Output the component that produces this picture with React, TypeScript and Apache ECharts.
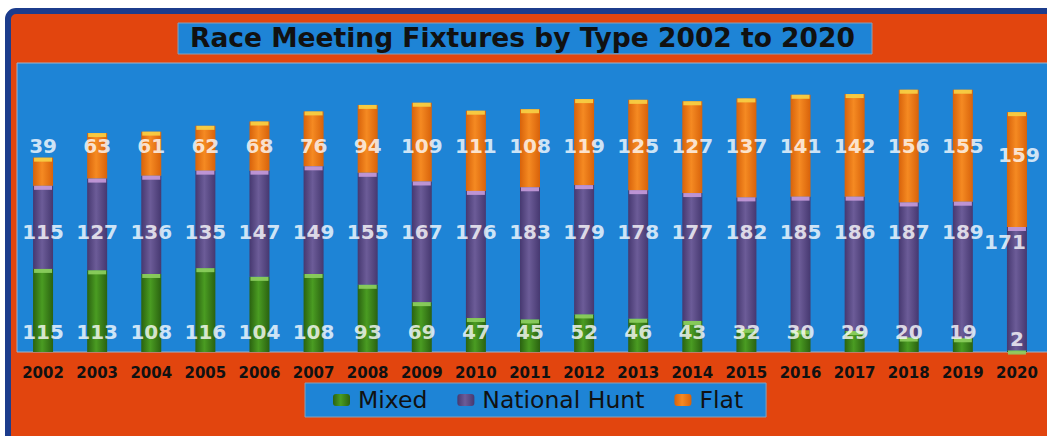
import React, { useEffect, useRef } from "react";
import * as echarts from "echarts";

const years = ["2002","2003","2004","2005","2006","2007","2008","2009","2010","2011","2012","2013","2014","2015","2016","2017","2018","2019","2020"];
const mixed = [115,113,108,116,104,108,93,69,47,45,52,46,43,32,30,29,20,19,2];
const nationalHunt = [115,127,136,135,147,149,155,167,176,183,179,178,177,182,185,186,187,189,171];
const flat = [39,63,61,62,68,76,94,109,111,108,119,125,127,137,141,142,156,155,159];
const seriesNames = ["Mixed", "National Hunt", "Flat"];
const titleText = "Race Meeting Fixtures by Type 2002 to 2020";

const labelFont = { color: "#ffffff", fontSize: 20, fontWeight: "bold" as const, fontFamily: "DejaVu Sans" };

function cyl(edge: string, mid: string) {
  return new echarts.graphic.LinearGradient(0, 0, 1, 0, [
    { offset: 0, color: edge },
    { offset: 0.45, color: mid },
    { offset: 1, color: edge },
  ]);
}

export default function App() {
  const ref = useRef<HTMLDivElement>(null);
  useEffect(() => {
    if (!ref.current) return;
    const chart = echarts.init(ref.current, undefined, { renderer: "svg" });
    const last = years.length - 1;
    const cumMixed = mixed.slice();
    const cumNH = mixed.map((v, i) => v + nationalHunt[i]);
    const cumFlat = cumNH.map((v, i) => v + flat[i]);

    const labelSeries = (name: string, values: number[], row: number, lastOffset: number[]) => ({
      name,
      type: "scatter",
      symbolSize: 0,
      silent: true,
      z: 10,
      data: values.map((v, i) => ({
        value: [i, row],
        label: i === last ? { offset: lastOffset } : undefined,
      })),
      label: {
        show: true,
        position: "inside",
        formatter: (p: any) => String(values[p.dataIndex]),
        ...labelFont,
      },
    });

    const capSeries = (name: string, values: number[], color: string) => ({
      name,
      type: "scatter",
      symbol: "rect",
      symbolSize: [18, 4],
      symbolOffset: [0, 2],
      silent: true,
      z: 5,
      itemStyle: { color, opacity: 0.9 },
      data: values.map((v, i) => [i, v]),
    });

    chart.setOption({
      animation: false,
      backgroundColor: "#ffffff",
      title: {
        text: titleText,
        left: 190,
        top: 24,
        padding: 0,
        textStyle: { fontSize: 26.5, fontWeight: "bold", fontFamily: "DejaVu Sans", color: "#111111" },
      },
      graphic: [
        {
          type: "rect",
          z: -10,
          shape: { x: 8, y: 11, width: 1060, height: 440, r: 8 },
          style: { fill: "#E2450E", stroke: "#1C3C8C", lineWidth: 6 },
        },
        {
          type: "rect",
          z: -9,
          shape: { x: 17, y: 63, width: 1040, height: 289 },
          style: { fill: "#1E84D6", stroke: "#9FB3C8", lineWidth: 1 },
        },
        {
          type: "rect",
          z: -9,
          shape: { x: 178, y: 23, width: 694, height: 31 },
          style: { fill: "#1E84D6", stroke: "#8A9FB5", lineWidth: 1 },
        },
      ],
      legend: {
        data: seriesNames,
        left: 305,
        top: 383,
        padding: [5, 23, 5, 28],
        itemGap: 30,
        itemWidth: 17,
        itemHeight: 12,
        backgroundColor: "#1E84D6",
        borderColor: "#8A9FB5",
        borderWidth: 1,
        textStyle: { fontSize: 23.5, fontFamily: "DejaVu Sans", color: "#111111", padding: [0, 0, 0, 3] },
      },
      grid: { left: 16, right: 3, top: 63, bottom: 84, containLabel: false },
      xAxis: {
        type: "category",
        data: years,
        axisLine: { show: false },
        axisTick: { show: false },
        axisLabel: {
          interval: 0,
          margin: 13,
          color: "#111111",
          fontSize: 15,
          fontWeight: "bold",
          fontFamily: "DejaVu Sans",
        },
      },
      yAxis: { type: "value", min: 0, max: 400, show: false, splitLine: { show: false } },
      series: [
        {
          name: "Mixed",
          type: "bar",
          stack: "total",
          barWidth: 20,
          itemStyle: { color: cyl("#2A6210", "#4A9C22") },
          data: mixed,
        },
        {
          name: "National Hunt",
          type: "bar",
          stack: "total",
          barWidth: 20,
          itemStyle: { color: cyl("#463870", "#6C5C98") },
          data: nationalHunt,
        },
        {
          name: "Flat",
          type: "bar",
          stack: "total",
          barWidth: 20,
          itemStyle: { color: cyl("#D8620A", "#F58A22") },
          data: flat,
        },
        capSeries("capMixed", cumMixed, "#8ED060"),
        capSeries("capNH", cumNH, "#C79BDB"),
        capSeries("capFlat", cumFlat, "#F7D246"),
        labelSeries("lblMixed", mixed, 28, [0, 7]),
        labelSeries("lblNH", nationalHunt, 166, [-12, 10]),
        labelSeries("lblFlat", flat, 285, [2, 9]),
      ],
    });
    return () => chart.dispose();
  }, []);
  return <div ref={ref} style={{ position: "fixed", left: 0, top: 0, width: 1047, height: 436 }} />;
}
